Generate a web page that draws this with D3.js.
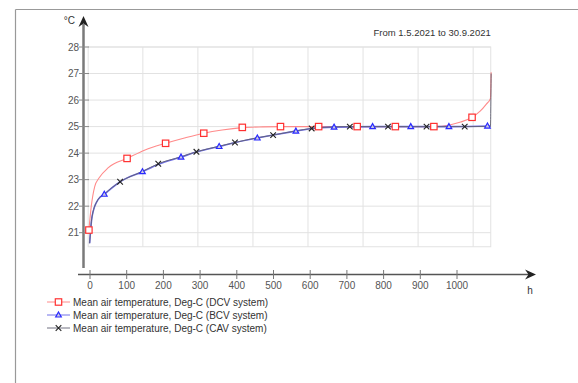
<!DOCTYPE html>
<html>
<head>
<meta charset="utf-8">
<script src="https://cdn.jsdelivr.net/npm/d3@7"></script>
<style>
  body { margin: 0; background: #fff; }
  svg { font-family: "Liberation Sans", Arial, sans-serif; }
</style>
</head>
<body>
<svg id="chart" width="578" height="383"></svg>
<script>
// curves, [h, deg C]
var dcvLine = [[-3,21.1],[3.5,22.0],[13,22.75],[24,23.05],[50,23.45],[101,23.8],[150,24.12],[206,24.37],[260,24.58],[310,24.75],[360,24.87],[415,24.96],[470,24.99],[519,25.0],[623,25.0],[728,25.0],[832,25.0],[937,25.0],[980,25.06],[1010,25.17],[1041,25.35],[1063,25.58],[1080,25.85],[1091,26.05],[1093,27.05]]
var bcvLine = [[-1,20.6],[5.5,21.6],[22,22.25],[39,22.45],[82,22.92],[143,23.3],[187,23.58],[248,23.85],[292,24.05],[352,24.25],[396,24.4],[456,24.57],[499,24.68],[561,24.83],[604,24.93],[665,24.98],[770,25.0],[874,25.0],[978,25.0],[1083,25.02],[1092,25.03]]
var cavLine = [[-1,20.6],[5.5,21.6],[22,22.25],[39,22.46],[82,22.92],[143,23.31],[186,23.6],[248,23.86],[290,24.05],[352,24.26],[395,24.4],[456,24.58],[499,24.68],[561,24.84],[604,24.93],[665,24.99],[708,25.0],[812,25.0],[917,25.0],[1021,25.0],[1091,25.0],[1093,27.0]]

// markers
var dcvMarks = [[-3,21.1],[101,23.8],[206,24.37],[310,24.75],[415,24.97],[519,25.0],[623,25.0],[728,25.0],[832,25.0],[937,25.0],[1041,25.35]]
var bcvMarks = [[39,22.45],[143,23.3],[248,23.85],[352,24.25],[456,24.57],[561,24.83],[665,24.98],[770,25.0],[874,25.0],[978,25.0],[1083,25.02]]
var cavMarks = [[82,22.92],[186,23.6],[290,24.05],[395,24.4],[499,24.68],[604,24.93],[708,25.0],[812,25.0],[917,25.0],[1021,25.0]]

var xTicks = [0,100,200,300,400,500,600,700,800,900,1000]
var yTicks = [21,22,23,24,25,26,27,28]
var xGrid = [144,294,444,594,744,894,1044]

var legendNames = [
  "Mean air temperature, Deg-C (DCV system)",
  "Mean air temperature, Deg-C (BCV system)",
  "Mean air temperature, Deg-C (CAV system)"
]

var svg = d3.select("#chart")

var x = d3.scaleLinear().domain([0, 1000]).range([90, 457])
var y = d3.scaleLinear().domain([21, 28]).range([232.7, 47])

var xMin = -5, xMax = 1092, yMin = 20.47

// panel border (left + top)
svg.append("line").attr("x1", 15.5).attr("x2", 578).attr("y1", 9.5).attr("y2", 9.5)
  .attr("stroke", "#999").attr("stroke-width", 1.2)
svg.append("line").attr("x1", 15.5).attr("x2", 15.5).attr("y1", 9.5).attr("y2", 383)
  .attr("stroke", "#999").attr("stroke-width", 1.2)

// grid
var grid = svg.append("g").attr("stroke", "#e2e2e2").attr("stroke-width", 1)
grid.selectAll(".hg").data(yTicks).enter().append("line")
  .attr("x1", x(xMin)).attr("x2", x(xMax))
  .attr("y1", d => y(d)).attr("y2", d => y(d))
grid.selectAll(".vg").data(xGrid).enter().append("line")
  .attr("x1", d => x(d)).attr("x2", d => x(d))
  .attr("y1", y(28)).attr("y2", y(yMin))
grid.append("rect")
  .attr("x", x(xMin)).attr("y", y(28))
  .attr("width", x(xMax) - x(xMin)).attr("height", y(yMin) - y(28))
  .attr("fill", "none")

// y axis (arrow)
svg.append("line").attr("x1", 83.5).attr("x2", 83.5).attr("y1", 24).attr("y2", 268)
  .attr("stroke", "#7a7a7a").attr("stroke-width", 2.5)
svg.append("path").attr("d", "M83.5,16 L78.5,27 L83.5,23.5 L88.5,27 Z").attr("fill", "#222")
svg.append("text").attr("x", 75).attr("y", 24).attr("text-anchor", "end")
  .attr("font-size", 10).attr("fill", "#333").text("°C")

var yt = svg.append("g")
yt.selectAll("line").data(yTicks).enter().append("line")
  .attr("x1", 79).attr("x2", 89).attr("y1", d => y(d)).attr("y2", d => y(d))
  .attr("stroke", "#888").attr("stroke-width", 1)
yt.selectAll("text").data(yTicks).enter().append("text")
  .attr("x", 79).attr("y", d => y(d) + 3.5).attr("text-anchor", "end")
  .attr("font-size", 10).attr("fill", "#555").text(d => d)

// x axis (arrow)
svg.append("line").attr("x1", 78).attr("x2", 530).attr("y1", 274.5).attr("y2", 274.5)
  .attr("stroke", "#555").attr("stroke-width", 1.6)
svg.append("path").attr("d", "M536,274.5 L525,269.5 L528.5,274.5 L525,279.5 Z").attr("fill", "#222")
svg.append("text").attr("x", 530).attr("y", 294).attr("text-anchor", "middle")
  .attr("font-size", 10).attr("fill", "#333").text("h")

var xt = svg.append("g")
xt.selectAll("line").data(xTicks).enter().append("line")
  .attr("x1", d => x(d)).attr("x2", d => x(d)).attr("y1", 270).attr("y2", 279)
  .attr("stroke", "#777").attr("stroke-width", 1)
xt.selectAll("text").data(xTicks).enter().append("text")
  .attr("x", d => x(d)).attr("y", 289).attr("text-anchor", "middle")
  .attr("font-size", 10).attr("fill", "#555").text(d => d)

// period label
svg.append("text").attr("x", x(xMax)).attr("y", 36).attr("text-anchor", "end")
  .attr("font-size", 9.5).attr("fill", "#333").text("From 1.5.2021 to 30.9.2021")

// lines
var line = d3.line().x(d => x(d[0])).y(d => y(d[1])).curve(d3.curveMonotoneX)

svg.append("path").datum(dcvLine).attr("d", line)
  .attr("fill", "none").attr("stroke", "#ff8a8a").attr("stroke-width", 1.1)
svg.append("path").datum(bcvLine).attr("d", line)
  .attr("fill", "none").attr("stroke", "#7070e8").attr("stroke-width", 1.6)
svg.append("path").datum(cavLine).attr("d", line)
  .attr("fill", "none").attr("stroke", "#606070").attr("stroke-width", 0.9)

// marker shapes
function square(g, cx, cy) {
  g.append("rect").attr("x", cx - 3.2).attr("y", cy - 3.2).attr("width", 6.4).attr("height", 6.4)
    .attr("fill", "#fff").attr("stroke", "#ff3030").attr("stroke-width", 1.2)
}
function triangle(g, cx, cy) {
  g.append("path").attr("d", `M${cx},${cy - 3} L${cx + 2.8},${cy + 2} L${cx - 2.8},${cy + 2} Z`)
    .attr("fill", "#ccd").attr("stroke", "#2a2aff").attr("stroke-width", 1.2)
}
function cross(g, cx, cy) {
  g.append("path").attr("d", `M${cx - 2.8},${cy - 2.8} L${cx + 2.8},${cy + 2.8} M${cx - 2.8},${cy + 2.8} L${cx + 2.8},${cy - 2.8}`)
    .attr("stroke", "#222").attr("stroke-width", 1.1)
}

var mk = svg.append("g")
bcvMarks.forEach(d => triangle(mk, x(d[0]), y(d[1])))
cavMarks.forEach(d => cross(mk, x(d[0]), y(d[1])))
dcvMarks.forEach(d => square(mk, x(d[0]), y(d[1])))

// legend
var legColors = ["#ff8a8a", "#7070e8", "#707080"]
var legMarks = [square, triangle, cross]
var leg = svg.append("g")
legendNames.forEach(function(name, i) {
  var ly = 302 + i * 13
  leg.append("line").attr("x1", 47).attr("x2", 70).attr("y1", ly).attr("y2", ly)
    .attr("stroke", legColors[i]).attr("stroke-width", 1)
  legMarks[i](leg, 58.5, ly)
  leg.append("text").attr("x", 73).attr("y", ly + 3.5)
    .attr("font-size", 10).attr("fill", "#333").text(name)
})
</script>
</body>
</html>
